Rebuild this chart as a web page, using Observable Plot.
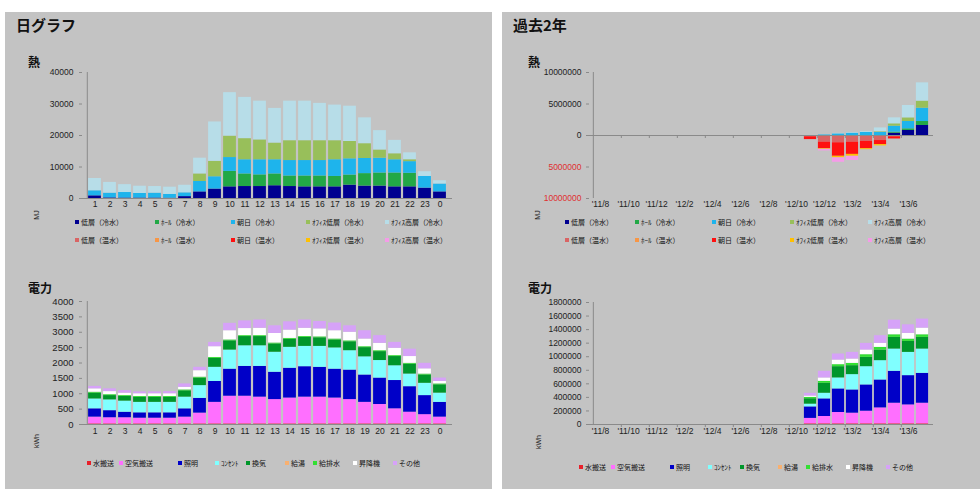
<!DOCTYPE html>
<html><head><meta charset="utf-8">
<script src="https://cdn.jsdelivr.net/npm/d3@7"></script>
<script src="https://cdn.jsdelivr.net/npm/@observablehq/plot@0.6"></script>
<style>
body{margin:0;width:980px;height:493px;background:#fff;position:relative;overflow:hidden;font-family:"Noto Sans CJK JP","Noto Sans",sans-serif;}
.panel{position:absolute;background:#c3c3c3;}
.abs{position:absolute;white-space:nowrap;color:#111;}
.title{font-size:15px;font-weight:bold;line-height:16px;}
.sub{font-size:12px;font-weight:bold;line-height:13px;}
.unit{font-size:7px;line-height:8px;color:#222;font-family:"Liberation Sans",Arial,sans-serif;transform:translate(-50%,-50%) rotate(-90deg);}
.leg{font-size:7px;line-height:8px;transform:translateY(-50%);color:#111;}
.leg i{display:inline-block;width:4px;height:4px;margin-right:2px;vertical-align:middle;position:relative;top:-1px;}
.chart{position:absolute;}
</style></head><body>
<script>
// ---------------- data ----------------
const hours = ["1","2","3","4","5","6","7","8","9","10","11","12","13","14","15","16","17","18","19","20","21","22","23","0"];
const heatSeries = ["低層（冷水）","ﾎｰﾙ（冷水）","朝日（冷水）","ｵﾌｨｽ低層（冷水）","ｵﾌｨｽ高層（冷水）","低層（温水）","ﾎｰﾙ（温水）","朝日（温水）","ｵﾌｨｽ低層（温水）","ｵﾌｨｽ高層（温水）"];
const heatColors = ["#000090","#22a846","#1eb4ec","#98bf5a","#b7dde8","#d96464","#f79646","#ff1010","#ffc000","#f59be8"];
// day heat (MJ)
const dayLowCold     = [850,200,150,150,150,100,600,2100,3000,3700,3800,3800,4050,3800,3700,3700,3700,4250,3950,3950,3700,3700,3300,2100];
const dayHallCold    = [0,0,0,0,0,0,0,0,0,4900,4000,3700,3750,3350,3450,3450,3300,3200,3950,4150,4400,4300,0,0];
const dayAsahiCold   = [1600,1500,1750,1450,1550,1200,1200,3300,3900,4400,4500,4800,4500,4900,4900,4900,5300,5150,4800,4700,4200,3700,3700,2500];
const dayOffLowCold  = [0,0,0,0,0,0,0,2400,4900,6800,6700,6300,5300,6300,6300,6300,6050,5500,4700,2600,1900,600,0,0];
const dayOffHighCold = [3900,3400,2500,2300,2100,2300,2400,5000,12500,13800,13100,12300,11000,12550,12550,11850,11300,11200,8200,6150,4250,2200,1500,1050];
const heatDayTicks = [0,10000,20000,30000,40000];

// past 2 years
const months = ["'11/8","'11/9","'11/10","'11/11","'11/12","'12/1","'12/2","'12/3","'12/4","'12/5","'12/6","'12/7","'12/8","'12/9","'12/10","'12/11","'12/12","'13/1","'13/2","'13/3","'13/4","'13/5","'13/6","'13/7"];
const monthLabels = ["'11/8","'11/10","'11/12","'12/2","'12/4","'12/6","'12/8","'12/10","'12/12","'13/2","'13/4","'13/6"];
const dataMonths = ["'12/11","'12/12","'13/1","'13/2","'13/3","'13/4","'13/5","'13/6","'13/7"];
const yrLowCold     = [0,0,0,0,0,0,370000,800000,1590000];
const yrHallCold    = [0,0,0,0,0,0,160000,260000,630000];
const yrAsahiCold   = [0,80000,260000,370000,500000,500000,950000,1160000,2120000];
const yrOffLowCold  = [0,0,0,0,0,100000,370000,580000,1110000];
const yrOffHighCold = [0,0,80000,100000,150000,600000,950000,1960000,2910000];
const yrLowWarm     = [-200000,-1050000,-1150000,-1050000,-950000,-800000,-200000,0,0];
const yrHallWarm    = [0,0,0,0,0,0,0,0,0];
const yrAsahiWarm   = [-450000,-1050000,-2150000,-1950000,-1150000,-650000,-350000,0,0];
const yrOffLowWarm  = [0,-100000,-250000,-300000,-150000,-200000,0,0,0];
const yrOffHighWarm = [0,-250000,-700000,-650000,0,0,0,0,0];
const heatYrTicksPos = [0,5000000,10000000];
const heatYrTicksNeg = [-5000000,-10000000];

const powerSeries = ["水搬送","空気搬送","照明","ｺﾝｾﾝﾄ","換気","給湯","給排水","昇降機","その他"];
const powerColors = ["#e8202a","#ff6fff","#0000c8","#80ffff","#00962a","#f8b070","#33e033","#ffffff","#d6a2f8"];
// day power (kWh)
const dpWater  = [20,20,20,20,20,20,20,20,20,20,20,20,20,20,20,20,20,20,20,20,20,20,20,20];
const dpAir    = [220,200,200,185,185,185,220,350,700,900,900,870,790,840,870,870,840,790,700,630,490,380,300,220];
const dpLight  = [270,230,180,175,175,175,270,480,680,880,970,1000,890,970,990,970,940,960,890,860,920,830,620,480];
const dpOutlet = [320,350,360,340,340,340,380,415,460,620,670,670,650,680,660,680,690,630,590,570,480,410,400,300];
const dpVent   = [190,140,150,160,160,160,205,245,290,300,300,300,270,260,290,280,260,290,300,290,300,320,270,270];
const dpDrain  = [30,30,30,30,30,30,30,30,30,30,30,30,30,30,30,30,30,30,30,30,30,30,30,30];
const dpElev   = [110,100,80,90,90,90,85,210,350,300,230,240,310,270,270,260,270,280,250,240,240,220,170,80];
const dpOther  = [80,90,80,60,60,70,110,110,140,240,250,270,250,270,270,240,250,210,270,250,190,240,180,110];
const powerDayTicks = [0,500,1000,1500,2000,2500,3000,3500,4000];
// past 2 years power (kWh)
const ypWater  = [10000,10000,10000,10000,10000,10000,10000,10000,10000];
const ypAir    = [80000,108000,167000,157000,186000,235000,304000,279000,304000];
const ypLight  = [170000,260000,348000,343000,388000,412000,471000,432000,441000];
const ypOutlet = [40000,83000,162000,226000,269000,285000,328000,343000,358000];
const ypVent   = [80000,147000,166000,132000,137000,157000,172000,162000,172000];
const ypDrain  = [20000,29000,30000,34000,40000,39000,39000,34000,39000];
const ypElev   = [20000,50000,68000,64000,69000,59000,84000,84000,98000];
const ypOther  = [40000,98000,89000,98000,98000,113000,132000,127000,133000];
const powerYrTicks = [0,200000,400000,600000,800000,1000000,1200000,1400000,1600000,1800000];

// ---------------- build tables ----------------
const long = (cats, seriesNames, arrays) =>
  arrays.flatMap((arr, k) => arr ? arr.map((v, i) => ({x: cats[i], s: seriesNames[k], v})) : []);
const dayHeat = long(hours, heatSeries, [dayLowCold, dayHallCold, dayAsahiCold, dayOffLowCold, dayOffHighCold]);
const yrHeat = long(dataMonths, heatSeries, [yrLowCold, yrHallCold, yrAsahiCold, yrOffLowCold, yrOffHighCold, yrLowWarm, yrHallWarm, yrAsahiWarm, yrOffLowWarm, yrOffHighWarm]);
const dayPower = long(hours, powerSeries, [dpWater, dpAir, dpLight, dpOutlet, dpVent, null, dpDrain, dpElev, dpOther]);
const yrPower = long(dataMonths, powerSeries, [ypWater, ypAir, ypLight, ypOutlet, ypVent, null, ypDrain, ypElev, ypOther]);

// ---------------- layout ----------------
const AX = "#8a8a8a", TXT = "#222";
const FONT = "Liberation Sans, Arial, sans-serif";
const plain = d => String(Math.abs(d));
function add(html){ document.body.insertAdjacentHTML("beforeend", html); }
function place(node, left, top){ const d=document.createElement("div"); d.className="chart"; d.style.left=left+"px"; d.style.top=top+"px"; d.appendChild(node); document.body.appendChild(d); }

add('<div class="panel" style="left:5px;top:12px;width:487px;height:477px"></div>');
add('<div class="panel" style="left:502px;top:12px;width:478px;height:477px"></div>');
add('<div class="abs title" style="left:16px;top:17px">日グラフ</div>');
add('<div class="abs title" style="left:513px;top:17px">過去2年</div>');
add('<div class="abs sub" style="left:28px;top:55px">熱</div>');
add('<div class="abs sub" style="left:528px;top:55px">熱</div>');
add('<div class="abs sub" style="left:28px;top:281px">電力</div>');
add('<div class="abs sub" style="left:528px;top:281px">電力</div>');
add('<div class="abs unit" style="left:37px;top:215px">MJ</div>');
add('<div class="abs unit" style="left:538px;top:215px">MJ</div>');
add('<div class="abs unit" style="left:37px;top:441px">kWh</div>');
add('<div class="abs unit" style="left:539px;top:442px">kWh</div>');

function legend(names, colors, xs, ys, perRow){
  names.forEach((n, i) => {
    const x = xs[i % perRow], y = ys[Math.floor(i / perRow)];
    add(`<div class="abs leg" style="left:${x}px;top:${y}px"><i style="background:${colors[i]}"></i>${n}</div>`);
  });
}
legend(heatSeries, heatColors, [75,155,231,306,385], [222,240], 5);
legend(heatSeries, heatColors, [565,635,712,790,868], [222,240], 5);
legend(powerSeries, powerColors, [87,119,178,215,246,285,313,353,393], [463], 9);
legend(powerSeries, powerColors, [579,611,670,708,740,778,806,846,886], [467], 9);

const W = 490, H = 175;
function dayChart(data, series, colors, yDomain, ticks, mt, mb, yFont, xPad){
  const ml = 82, mr = 38, step = (W - ml - mr) / hours.length;
  return Plot.plot({
    width: W, height: H, marginLeft: ml, marginRight: mr, marginTop: mt, marginBottom: mb,
    style: {background: "transparent", fontFamily: FONT, fontSize: "8px", color: TXT, overflow: "visible"},
    x: {domain: hours, padding: 0, label: null},
    y: {domain: yDomain, label: null},
    color: {domain: series, range: colors},
    marks: [
      Plot.barY(data, {x: "x", y: "v", fill: "s", order: series, insetLeft: 1.1, insetRight: 1.1}),
      Plot.ruleY([0], {stroke: AX}),
      Plot.ruleX([hours[0]], {dx: -step / 2, stroke: AX}),
      Plot.axisY({ticks, tickFormat: plain, tickSize: 3, tickPadding: 6, stroke: AX, fill: TXT, fontSize: yFont, label: null}),
      Plot.axisX({tickSize: 0, tickPadding: xPad, fill: TXT, fontSize: 8.5, label: null})
    ]
  });
}
function yrChart(data, series, colors, yDomain, posTicks, negTicks, mt, mb, xPad){
  const ml = 99, mr = 47, step = (W - ml - mr) / months.length;
  const bounds = months.filter((d, i) => i > 0 && i % 2 === 0);
  const marks = [
    Plot.barY(data, {x: "x", y: "v", fill: "s", order: series, insetLeft: 0.9, insetRight: 0.9}),
    Plot.ruleY([0], {stroke: AX}),
    Plot.ruleX(bounds, {x: d => d, y1: 0, y2: 0, insetBottom: -3, dx: -step / 2, stroke: AX}),
    Plot.ruleX([months[0]], {dx: -step / 2, stroke: AX}),
    Plot.axisY({ticks: posTicks, tickFormat: plain, tickSize: 3, tickPadding: 5, stroke: AX, fill: TXT, fontSize: 8.5, label: null}),
    Plot.axisX({ticks: monthLabels, tickSize: 0, tickPadding: xPad, fill: TXT, fontSize: 8.5, label: null, anchor: "bottom"})
  ];
  if (negTicks) marks.push(Plot.axisY({ticks: negTicks, tickFormat: plain, tickSize: 3, tickPadding: 5, stroke: AX, fill: "#e03030", fontSize: 8.5, label: null}));
  return Plot.plot({
    width: W, height: H, marginLeft: ml, marginRight: mr, marginTop: mt, marginBottom: mb,
    style: {background: "transparent", fontFamily: FONT, fontSize: "8px", color: TXT, overflow: "visible"},
    x: {domain: months, padding: 0, label: null},
    y: {domain: yDomain, label: null},
    color: {domain: series, range: colors},
    marks
  });
}

place(dayChart(dayHeat, heatSeries, heatColors, [0, 40000], heatDayTicks, 22, 27, 8.5, 2), 0, 50);
place(yrChart(yrHeat, heatSeries, heatColors, [-10000000, 10000000], heatYrTicksPos, heatYrTicksNeg, 22, 27, 2), 490, 50);
place(dayChart(dayPower, powerSeries, powerColors, [0, 4000], powerDayTicks, 21, 31, 9.5, 3), 0, 280);
place(yrChart(yrPower, powerSeries, powerColors, [0, 1800000], powerYrTicks, null, 22, 31, 3), 490, 280);
</script>
</body></html>
